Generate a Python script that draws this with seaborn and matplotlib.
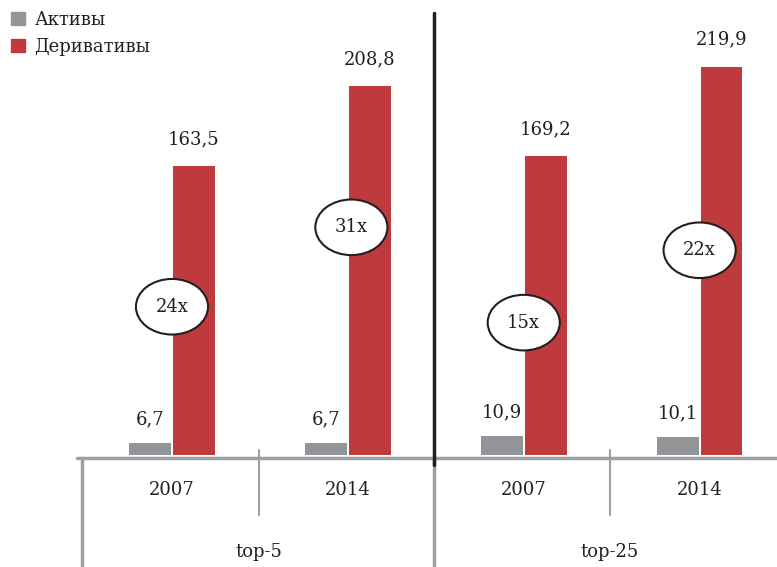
import pandas as pd
import matplotlib
matplotlib.use('Agg')
import matplotlib.pyplot as plt
import seaborn as sns
from matplotlib.patches import Ellipse, Patch
from matplotlib.transforms import blended_transform_factory

groups = ['top-5', 'top-5', 'top-25', 'top-25']
years = ['2007', '2014', '2007', '2014']
assets = [6.7, 6.7, 10.9, 10.1]
derivatives = [163.5, 208.8, 169.2, 219.9]
ratios = ['24x', '31x', '15x', '22x']
# where the ovals sit (x offset from the pair centre, height in data units)
ratio_dx = [0.0, 0.02, 0.0, 0.0]
ratio_y = [84, 129, 75, 116]

GRAY = '#939598'
RED = '#be3a3d'
INK = '#231f20'
LINE = '#9d9fa2'
FS = 13

sns.set_theme(style='white')
plt.rcParams['font.family'] = ['DejaVu Serif', 'Liberation Serif']

cats = [f'{g} {y}' for g, y in zip(groups, years)]
df = pd.DataFrame({
    'cat': cats * 2,
    'series': ['Активы'] * 4 + ['Деривативы'] * 4,
    'value': assets + derivatives,
})

fig = plt.figure(figsize=(7.77, 5.67), dpi=100)
W, H = 777, 567
base = 455
ax = fig.add_axes([80 / W, (H - base) / H, (W - 80) / W, base / H])

sns.barplot(data=df, x='cat', y='value', hue='series', order=cats,
            palette=[GRAY, RED], saturation=1, width=0.5, gap=0.05,
            linewidth=0, legend=False, ax=ax)

ax.set_xlim(-0.523, 3.44)
ax.set_ylim(0, base / 1.765)
ax.set_xlabel('')
ax.set_ylabel('')
ax.set_xticks([])
ax.set_yticks([])
for s in ax.spines.values():
    s.set_visible(False)

fmt = lambda v: f'{v:.1f}'.replace('.', ',')
ax.bar_label(ax.containers[0], labels=[fmt(v) for v in assets],
             padding=10.5, fontsize=FS, color=INK)
ax.bar_label(ax.containers[1], labels=[fmt(v) for v in derivatives],
             padding=13, fontsize=FS, color=INK)

for i, (r, dx, y) in enumerate(zip(ratios, ratio_dx, ratio_y)):
    ax.add_patch(Ellipse((i + dx, y), 0.41, 31.5, facecolor='white',
                         edgecolor=INK, lw=1.5, zorder=5))
    ax.text(i + dx, y, r, ha='center', va='center', fontsize=FS,
            color=INK, zorder=6)

# table under the bars, y in pixels below the baseline
tr = blended_transform_factory(ax.transData, ax.transAxes)
py = lambda p: (base - p) / base

ax.plot([-0.54, 3.44], [py(458), py(458)], color=LINE, lw=2.5,
        transform=tr, clip_on=False, zorder=3)
ax.plot([-0.51, -0.51], [py(458), py(567)], color=LINE, lw=2.5,
        transform=tr, clip_on=False)
ax.plot([1.49, 1.49], [py(458), py(567)], color=LINE, lw=2.5,
        transform=tr, clip_on=False)
for xs in [0.495, 2.49]:
    ax.plot([xs, xs], [py(450), py(515)], color=LINE, lw=1.5,
            transform=tr, clip_on=False)
ax.plot([1.49, 1.49], [py(13), py(465)], color=INK, lw=2.5,
        transform=tr, clip_on=False, zorder=4)

for i, y in enumerate(years):
    ax.text(i, py(490), y, ha='center', va='center', fontsize=FS,
            color=INK, transform=tr)
for xc, g in zip([0.495, 2.49], ['top-5', 'top-25']):
    ax.text(xc, py(552), g, ha='center', va='center', fontsize=FS,
            color=INK, transform=tr)

handles = [Patch(color=GRAY, label='Активы'),
           Patch(color=RED, label='Деривативы')]
fig.legend(handles=handles, loc='upper left', bbox_to_anchor=(0.0, 1.0),
           frameon=False, fontsize=FS, handlelength=0.8, handleheight=0.8,
           handletextpad=0.5, labelspacing=0.5, borderaxespad=0.2,
           labelcolor=INK)

fig.savefig('out.png', dpi=100)
